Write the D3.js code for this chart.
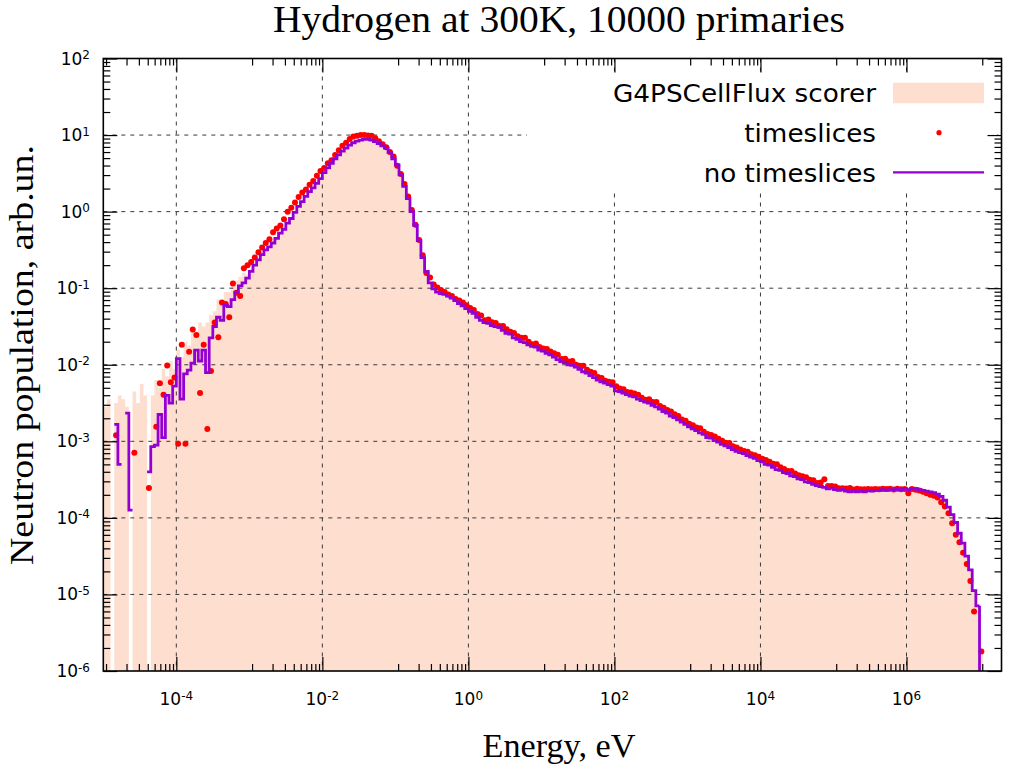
<!DOCTYPE html>
<html>
<head>
<meta charset="utf-8">
<script src="https://cdn.jsdelivr.net/npm/d3@7"></script>
<style>
  body { margin: 0; background: #fff; }
  svg { display: block; }
</style>
</head>
<body>
<svg id="chart" width="1010" height="767"></svg>
<script>
// ---------------- DATA ----------------
// Histogram bins: 20 per decade starting at 1e-5 eV
const binsPerDecade = 20;
const energyStart = 1e-5;

// G4PSCellFlux scorer (filled histogram)
const scorer = [
  2.82e-3,3.55e-3,0,3.16e-3,3.98e-3,3.55e-3,2.82e-3,0,4.47e-3,3.16e-3,
  5.6e-3,3.98e-3,0,3.98e-3,6.3e-3,5.0e-3,8.9e-3,7.1e-3,1.12e-2,8.9e-3,
  1.58e-2,1.26e-2,2.0e-2,1.78e-2,2.82e-2,2.51e-2,3.55e-2,3.16e-2,3.55e-2,4.47e-2,
  5.0e-2,7.1e-2,6.3e-2,8.9e-2,8.9e-2,0.112,0.126,0.141,0.158,0.151,
  0.182,0.2,0.234,0.275,0.316,0.347,0.389,0.447,0.525,0.589,
  0.708,0.813,0.977,1.17,1.35,1.58,1.82,2.04,2.34,2.69,
  3.24,3.72,4.27,4.9,5.5,6.17,6.76,7.41,7.94,8.32,
  8.6,8.8,8.8,8.6,8.2,7.76,7.24,6.76,5.89,4.9,
  4.07,3.02,2.14,1.48,1.0,0.66,0.417,0.251,0.166,0.117,
  9.8e-2,8.9e-2,8.5e-2,8.3e-2,7.9e-2,7.4e-2,6.9e-2,6.3e-2,5.9e-2,5.4e-2,
  5.0e-2,4.68e-2,4.17e-2,3.8e-2,3.55e-2,3.47e-2,3.24e-2,3.16e-2,3.09e-2,2.82e-2,
  2.57e-2,2.51e-2,2.24e-2,2.14e-2,2.0e-2,1.95e-2,1.82e-2,1.74e-2,1.7e-2,1.55e-2,
  1.51e-2,1.41e-2,1.35e-2,1.26e-2,1.17e-2,1.1e-2,1.07e-2,1.0e-2,9.8e-3,9.3e-3,
  8.7e-3,8.1e-3,7.8e-3,7.2e-3,6.8e-3,6.3e-3,6.0e-3,5.75e-3,5.5e-3,5.25e-3,
  4.57e-3,4.47e-3,4.27e-3,4.07e-3,3.89e-3,3.8e-3,3.55e-3,3.39e-3,3.24e-3,3.16e-3,
  2.95e-3,2.82e-3,2.63e-3,2.45e-3,2.34e-3,2.14e-3,2.04e-3,1.91e-3,1.78e-3,1.66e-3,
  1.55e-3,1.45e-3,1.38e-3,1.29e-3,1.23e-3,1.12e-3,1.1e-3,1.02e-3,9.8e-4,9.1e-4,
  8.7e-4,8.3e-4,7.8e-4,7.4e-4,7.1e-4,6.9e-4,6.5e-4,6.2e-4,6.0e-4,5.6e-4,
  5.4e-4,5.0e-4,4.9e-4,4.57e-4,4.27e-4,4.17e-4,3.89e-4,3.8e-4,3.55e-4,3.47e-4,
  3.24e-4,3.16e-4,2.95e-4,2.88e-4,2.75e-4,2.63e-4,2.57e-4,2.51e-4,2.4e-4,2.45e-4,
  2.34e-4,2.29e-4,2.34e-4,2.24e-4,2.19e-4,2.24e-4,2.19e-4,2.24e-4,2.19e-4,2.29e-4,
  2.24e-4,2.29e-4,2.29e-4,2.34e-4,2.29e-4,2.34e-4,2.34e-4,2.4e-4,2.34e-4,2.4e-4,
  2.34e-4,2.4e-4,2.4e-4,2.34e-4,2.29e-4,2.24e-4,2.19e-4,2.14e-4,2.04e-4,1.91e-4,
  1.7e-4,1.38e-4,1.1e-4,8.7e-5,6.3e-5,4.68e-5,3.16e-5,2.09e-5,1.12e-5,7.1e-6,
  2.0e-6
];

// timeslices (points); null = no entry
const timeslices = [
  null,null,null,1.2e-3,null,null,null,null,7.1e-4,null,
  null,null,2.45e-4,null,1.55e-3,5.75e-3,4.07e-3,9.8e-3,5.9e-3,6.8e-3,
  9.3e-4,1.82e-2,9.3e-4,1.48e-2,2.88e-2,2.45e-2,4.27e-3,1.82e-2,1.45e-3,8.3e-3,
  3.55e-2,2.29e-2,6.5e-2,6.2e-2,4.17e-2,0.115,8.7e-2,7.9e-2,0.182,0.2,
  0.219,0.251,0.295,0.339,0.389,0.437,0.537,0.603,0.661,0.794,
  1.0,1.12,1.32,1.55,1.78,1.95,2.24,2.51,2.95,3.39,
  3.72,4.27,4.68,5.5,6.31,7.24,7.94,8.91,9.55,9.77,
  10.0,10.0,9.9,9.77,9.12,8.32,7.59,6.92,6.03,5.25,
  3.98,3.09,2.29,1.58,1.05,0.676,0.427,0.269,0.158,0.138,
  0.112,0.102,9.5e-2,8.9e-2,8.3e-2,7.9e-2,7.2e-2,6.9e-2,6.5e-2,6.0e-2,
  5.5e-2,5.2e-2,4.6e-2,4.4e-2,3.8e-2,3.9e-2,3.6e-2,3.5e-2,3.2e-2,3.2e-2,
  2.9e-2,2.7e-2,2.6e-2,2.35e-2,2.25e-2,2.25e-2,2.0e-2,1.85e-2,1.9e-2,1.7e-2,
  1.63e-2,1.6e-2,1.49e-2,1.41e-2,1.35e-2,1.19e-2,1.2e-2,1.1e-2,1.12e-2,1.0e-2,
  9.7e-3,9.7e-3,8.6e-3,8.1e-3,7.8e-3,6.9e-3,6.7e-3,6.2e-3,6.0e-3,5.9e-3,
  5.25e-3,4.9e-3,4.8e-3,4.4e-3,4.35e-3,4.2e-3,4.05e-3,3.7e-3,3.5e-3,3.55e-3,
  3.25e-3,3.25e-3,2.9e-3,2.75e-3,2.57e-3,2.45e-3,2.25e-3,2.14e-3,1.92e-3,1.86e-3,
  1.7e-3,1.62e-3,1.52e-3,1.48e-3,1.33e-3,1.25e-3,1.21e-3,1.16e-3,1.08e-3,1.02e-3,
  9.6e-4,9.5e-4,8.6e-4,8.3e-4,7.8e-4,7.45e-4,7.3e-4,6.8e-4,6.6e-4,6.3e-4,
  5.9e-4,5.7e-4,5.4e-4,5.1e-4,5.0e-4,4.6e-4,4.35e-4,4.1e-4,4.1e-4,3.8e-4,
  3.6e-4,3.5e-4,3.4e-4,3.15e-4,3.1e-4,2.85e-4,2.9e-4,3.2e-4,2.6e-4,2.6e-4,
  2.57e-4,2.43e-4,2.43e-4,2.42e-4,2.45e-4,2.35e-4,2.4e-4,2.37e-4,2.36e-4,2.38e-4,
  2.37e-4,2.38e-4,2.36e-4,2.41e-4,2.38e-4,2.41e-4,2.34e-4,2.4e-4,2.36e-4,2.38e-4,
  2.1e-4,2.38e-4,2.33e-4,2.28e-4,2.2e-4,2.1e-4,2.0e-4,1.95e-4,1.85e-4,1.6e-4,
  1.41e-4,1.15e-4,8.5e-5,6.0e-5,4.8e-5,3.5e-5,2.5e-5,1.5e-5,6.0e-6,null,
  1.8e-6
];

// no timeslices (step line); 0 = empty bin
const noTimeslices = [
  0,0,0,1.66e-3,5.0e-4,0,2.34e-3,1.26e-4,0,0,
  0,0,3.98e-4,8.5e-4,8.9e-4,2.24e-3,1.12e-3,3.98e-3,3.16e-3,5.25e-3,
  1.2e-2,3.55e-3,7.6e-3,8.5e-3,1.05e-2,1.55e-2,1.12e-2,1.55e-2,7.9e-3,2.24e-2,
  3.16e-2,4.17e-2,3.8e-2,6.0e-2,5.75e-2,7.1e-2,8.9e-2,0.107,0.117,0.135,
  0.166,0.2,0.234,0.275,0.316,0.347,0.389,0.447,0.525,0.589,
  0.708,0.813,0.977,1.17,1.35,1.58,1.82,2.04,2.34,2.69,
  3.24,3.72,4.27,4.9,5.5,6.17,6.76,7.41,7.94,8.32,
  8.6,8.8,8.8,8.6,8.2,7.76,7.24,6.76,5.89,4.9,
  4.07,3.02,2.14,1.48,1.0,0.66,0.417,0.251,0.166,0.117,
  9.8e-2,8.9e-2,8.5e-2,8.3e-2,7.9e-2,7.4e-2,6.9e-2,6.3e-2,5.9e-2,5.4e-2,
  5.0e-2,4.68e-2,4.17e-2,3.8e-2,3.55e-2,3.47e-2,3.24e-2,3.16e-2,3.09e-2,2.82e-2,
  2.57e-2,2.51e-2,2.24e-2,2.14e-2,2.0e-2,1.95e-2,1.82e-2,1.74e-2,1.7e-2,1.55e-2,
  1.51e-2,1.41e-2,1.35e-2,1.26e-2,1.17e-2,1.1e-2,1.07e-2,1.0e-2,9.8e-3,9.3e-3,
  8.7e-3,8.1e-3,7.8e-3,7.2e-3,6.8e-3,6.3e-3,6.0e-3,5.75e-3,5.5e-3,5.25e-3,
  4.57e-3,4.47e-3,4.27e-3,4.07e-3,3.89e-3,3.8e-3,3.55e-3,3.39e-3,3.24e-3,3.16e-3,
  2.95e-3,2.82e-3,2.63e-3,2.45e-3,2.34e-3,2.14e-3,2.04e-3,1.91e-3,1.78e-3,1.66e-3,
  1.55e-3,1.45e-3,1.38e-3,1.29e-3,1.23e-3,1.12e-3,1.1e-3,1.02e-3,9.8e-4,9.1e-4,
  8.7e-4,8.3e-4,7.8e-4,7.4e-4,7.1e-4,6.9e-4,6.5e-4,6.2e-4,6.0e-4,5.6e-4,
  5.4e-4,5.0e-4,4.9e-4,4.57e-4,4.27e-4,4.17e-4,3.89e-4,3.8e-4,3.55e-4,3.47e-4,
  3.24e-4,3.16e-4,2.95e-4,2.88e-4,2.75e-4,2.63e-4,2.57e-4,2.51e-4,2.4e-4,2.45e-4,
  2.34e-4,2.29e-4,2.34e-4,2.24e-4,2.19e-4,2.24e-4,2.19e-4,2.24e-4,2.19e-4,2.29e-4,
  2.24e-4,2.29e-4,2.29e-4,2.34e-4,2.29e-4,2.34e-4,2.34e-4,2.4e-4,2.34e-4,2.4e-4,
  2.34e-4,2.4e-4,2.4e-4,2.34e-4,2.29e-4,2.24e-4,2.19e-4,2.14e-4,2.04e-4,1.91e-4,
  1.7e-4,1.38e-4,1.1e-4,8.7e-5,6.3e-5,4.68e-5,3.16e-5,2.09e-5,1.12e-5,7.1e-6
];

const xTickExponents = [-4, -2, 0, 2, 4, 6];
const yTickExponents = [-6, -5, -4, -3, -2, -1, 0, 1, 2];
const legendLabels = ["G4PSCellFlux scorer", "timeslices", "no timeslices"];
const titleText = "Hydrogen at 300K, 10000 primaries";
const xLabelText = "Energy, eV";
const yLabelText = "Neutron population, arb.un.";

// ---------------- LAYOUT / STYLE ----------------
const plot = { left: 103.3, right: 1001.5, top: 58.5, bottom: 671 };
const colors = { fill: "#fddecf", dots: "#ff0000", line: "#9400d3", grid: "#3a3a3a" };
const serif = "'Liberation Serif', 'DejaVu Serif', serif";
const sans = "'DejaVu Sans', 'Liberation Sans', sans-serif";

const svg = d3.select("#chart");
const x = d3.scaleLog().domain([1e-5, 2e7]).range([plot.left, plot.right]);
const y = d3.scaleLog().domain([1e-6, 1e2]).range([plot.bottom, plot.top]);
const edge = i => energyStart * Math.pow(10, i / binsPerDecade);
const yc = v => (v > 0 ? Math.max(plot.top, Math.min(plot.bottom, y(v))) : plot.bottom);

svg.append("rect").attr("width", 1010).attr("height", 767).attr("fill", "#fff");

svg.append("defs").append("clipPath").attr("id", "clip")
  .append("rect")
  .attr("x", plot.left).attr("y", plot.top)
  .attr("width", plot.right - plot.left).attr("height", plot.bottom - plot.top);

const gPlot = svg.append("g").attr("clip-path", "url(#clip)");

// ---- filled histogram (scorer)
const fillPts = [];
scorer.forEach((v, i) => { fillPts.push([edge(i), v], [edge(i + 1), v]); });
gPlot.append("path")
  .attr("d", d3.area().x(d => x(d[0])).y0(plot.bottom).y1(d => yc(d[1]))(fillPts))
  .attr("fill", colors.fill).attr("stroke", "none");

// ---- grid
const xMajor = xTickExponents.map(e => Math.pow(10, e));
const yGrid = yTickExponents.map(e => Math.pow(10, e)).filter(v => v > 1e-6 && v < 1e2);
gPlot.append("g").selectAll("line").data(xMajor).join("line")
  .attr("x1", d => x(d)).attr("x2", d => x(d))
  .attr("y1", plot.top).attr("y2", plot.bottom)
  .attr("stroke", colors.grid).attr("stroke-width", 1).attr("stroke-dasharray", "4,5");
gPlot.append("g").selectAll("line").data(yGrid).join("line")
  .attr("x1", plot.left).attr("x2", plot.right)
  .attr("y1", d => y(d)).attr("y2", d => y(d))
  .attr("stroke", colors.grid).attr("stroke-width", 1).attr("stroke-dasharray", "4,5");

// ---- timeslices points
const dotData = [];
timeslices.forEach((v, i) => { if (v != null && v > 0) dotData.push([Math.sqrt(edge(i) * edge(i + 1)), v]); });
gPlot.append("g").selectAll("circle").data(dotData).join("circle")
  .attr("cx", d => x(d[0])).attr("cy", d => y(d[1])).attr("r", 3)
  .attr("fill", colors.dots);

// ---- no timeslices step line
const linePts = [];
noTimeslices.forEach((v, i) => { linePts.push([edge(i), v], [edge(i + 1), v]); });
gPlot.append("path")
  .attr("d", d3.line().defined(d => d[1] > 0).x(d => x(d[0])).y(d => y(d[1])).curve(d3.curveLinear)(linePts))
  .attr("fill", "none").attr("stroke", colors.line).attr("stroke-width", 2.8)
  .attr("stroke-linejoin", "miter");
// final drop of the last bin to the axis
let lastIdx = noTimeslices.length - 1;
while (lastIdx >= 0 && !(noTimeslices[lastIdx] > 0)) lastIdx--;
gPlot.append("path")
  .attr("d", d3.line()([[x(edge(lastIdx + 1)), y(noTimeslices[lastIdx])], [x(edge(lastIdx + 1)), plot.bottom]]))
  .attr("stroke", colors.line).attr("stroke-width", 2.8).attr("fill", "none");

// ---- opaque key background
const key = { x0: 527, x1: 997, y0: 73, y1: 193 };
svg.append("rect").attr("x", key.x0).attr("y", key.y0)
  .attr("width", key.x1 - key.x0).attr("height", key.y1 - key.y0).attr("fill", "#fff");

// ---- axes (ticks on all four sides, inward)
const xMinor = [];
for (let e = -6; e <= 6; e += 2) {
  const lo = Math.pow(10, e), hi = Math.pow(10, e + 2);
  for (let k = 1; k <= 9; k++) {
    const t = lo + k * (hi - lo) / 10;
    if (t > 1e-5 && t < 2e7) xMinor.push(t);
  }
}
const yMinor = [];
for (let e = -6; e < 2; e++) for (let k = 2; k <= 9; k++) yMinor.push(k * Math.pow(10, e));

function styleAxis(g) {
  g.select(".domain").remove();
  g.selectAll(".tick line").attr("stroke", "#000").attr("stroke-width", 1.2);
  g.selectAll(".tick text").remove();
}
const majorLen = 14, minorLen = 7;
svg.append("g").attr("transform", `translate(0,${plot.bottom})`)
  .call(d3.axisBottom(x).tickValues(xMajor).tickSize(-majorLen).tickFormat("")).call(styleAxis);
svg.append("g").attr("transform", `translate(0,${plot.bottom})`)
  .call(d3.axisBottom(x).tickValues(xMinor).tickSize(-minorLen).tickFormat("")).call(styleAxis);
svg.append("g").attr("transform", `translate(0,${plot.top})`)
  .call(d3.axisTop(x).tickValues(xMajor).tickSize(-majorLen).tickFormat("")).call(styleAxis);
svg.append("g").attr("transform", `translate(0,${plot.top})`)
  .call(d3.axisTop(x).tickValues(xMinor).tickSize(-minorLen).tickFormat("")).call(styleAxis);
const yMajor = yTickExponents.map(e => Math.pow(10, e));
svg.append("g").attr("transform", `translate(${plot.left},0)`)
  .call(d3.axisLeft(y).tickValues(yMajor).tickSize(-majorLen).tickFormat("")).call(styleAxis);
svg.append("g").attr("transform", `translate(${plot.left},0)`)
  .call(d3.axisLeft(y).tickValues(yMinor).tickSize(-minorLen).tickFormat("")).call(styleAxis);
svg.append("g").attr("transform", `translate(${plot.right},0)`)
  .call(d3.axisRight(y).tickValues(yMajor).tickSize(-majorLen).tickFormat("")).call(styleAxis);
svg.append("g").attr("transform", `translate(${plot.right},0)`)
  .call(d3.axisRight(y).tickValues(yMinor).tickSize(-minorLen).tickFormat("")).call(styleAxis);

// border
svg.append("rect").attr("x", plot.left).attr("y", plot.top)
  .attr("width", plot.right - plot.left).attr("height", plot.bottom - plot.top)
  .attr("fill", "none").attr("stroke", "#000").attr("stroke-width", 1.6);

// ---- tick labels with superscripts
function powLabel(sel, e) {
  sel.append("tspan").text("10");
  sel.append("tspan").attr("dy", "-0.45em").attr("font-size", "12px").text(String(e));
}
xTickExponents.forEach(e => {
  const t = svg.append("text").attr("x", x(Math.pow(10, e))).attr("y", 705)
    .attr("text-anchor", "middle").attr("font-family", sans).attr("font-size", "17px").attr("fill", "#000");
  powLabel(t, e);
});
yTickExponents.forEach(e => {
  const t = svg.append("text").attr("x", 90).attr("y", y(Math.pow(10, e)) + 6)
    .attr("text-anchor", "end").attr("font-family", sans).attr("font-size", "17px").attr("fill", "#000");
  powLabel(t, e);
});

// ---- titles
svg.append("text").attr("x", 559).attr("y", 32).attr("text-anchor", "middle")
  .attr("font-family", serif).attr("font-size", "37px").attr("textLength", 572).attr("lengthAdjust", "spacingAndGlyphs")
  .text(titleText);
svg.append("text").attr("x", 559).attr("y", 757).attr("text-anchor", "middle")
  .attr("font-family", serif).attr("font-size", "33px").attr("textLength", 153).attr("lengthAdjust", "spacingAndGlyphs")
  .text(xLabelText);
svg.append("text").attr("transform", "translate(33,355) rotate(-90)").attr("text-anchor", "middle")
  .attr("font-family", serif).attr("font-size", "33px").attr("textLength", 420).attr("lengthAdjust", "spacingAndGlyphs")
  .text(yLabelText);

// ---- legend
const legendTextX = 876;
const rowBase = [101.5, 141.5, 181.5];
const legendWidths = [263, 131.7, 172.3];
legendLabels.forEach((lab, i) => {
  svg.append("text").attr("x", legendTextX).attr("y", rowBase[i]).attr("text-anchor", "end")
    .attr("font-family", sans).attr("font-size", "24px").attr("textLength", legendWidths[i])
    .attr("lengthAdjust", "spacingAndGlyphs").text(lab);
});
svg.append("rect").attr("x", 893).attr("y", 82.7).attr("width", 91).attr("height", 20.6).attr("fill", colors.fill);
svg.append("circle").attr("cx", 939).attr("cy", 132.7).attr("r", 2.6).attr("fill", colors.dots);
svg.append("line").attr("x1", 893).attr("x2", 984).attr("y1", 172.3).attr("y2", 172.3)
  .attr("stroke", colors.line).attr("stroke-width", 2.2);
</script>
</body>
</html>
